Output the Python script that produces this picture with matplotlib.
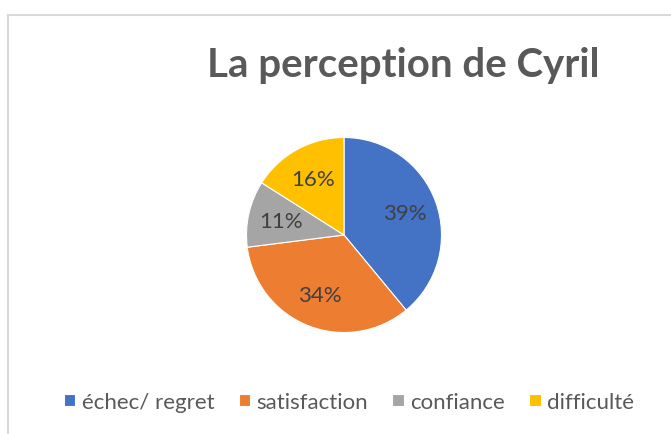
import matplotlib.pyplot as plt
from matplotlib.lines import Line2D

categories = ['échec/ regret', 'satisfaction', 'confiance', 'difficulté']
values = [39, 34, 11, 16]
colors = ['#4472C4', '#ED7D31', '#A5A5A5', '#FFC000']

W, H = 671, 435
fig = plt.figure(figsize=(W / 100, H / 100), dpi=100)
fig.patch.set_facecolor('white')

# chart border (cropped on right and bottom)
fig.add_artist(Line2D([8 / W, 1], [1 - 15.5 / H, 1 - 15.5 / H], color='#d9d9d9', lw=1.5))
fig.add_artist(Line2D([8 / W, 8 / W], [0, 1 - 15.5 / H], color='#d9d9d9', lw=1.5))

cx, cy, r = 344, 236, 97.5
ax = fig.add_axes([(cx - r) / W, 1 - (cy + r) / H, 2 * r / W, 2 * r / H])
wedges, texts, autotexts = ax.pie(
    values, colors=colors, startangle=90, counterclock=False,
    autopct='%.0f%%', pctdistance=0.66,
    wedgeprops=dict(edgecolor='white', linewidth=0.8),
    textprops=dict(color='#404040', fontsize=16, family='Lato'))
ax.set_xlim(-1, 1)
ax.set_ylim(-1, 1)
ax.set_aspect('equal')
ax.axis('off')

fig.text(403 / W, 1 - 77 / H, 'La perception de Cyril', ha='center', va='baseline',
         fontsize=29, fontweight='bold', color='#595959', family='Lato')

leg = fig.legend(wedges, categories, loc='center', bbox_to_anchor=(349 / W, 1 - 403 / H),
                 ncol=4, frameon=False, handlelength=0.5, handleheight=0.5,
                 handletextpad=0.3, columnspacing=1.1,
                 prop=dict(family='Lato', size=16))
for t in leg.get_texts():
    t.set_color('#595959')

fig.savefig('out.png', dpi=100)
